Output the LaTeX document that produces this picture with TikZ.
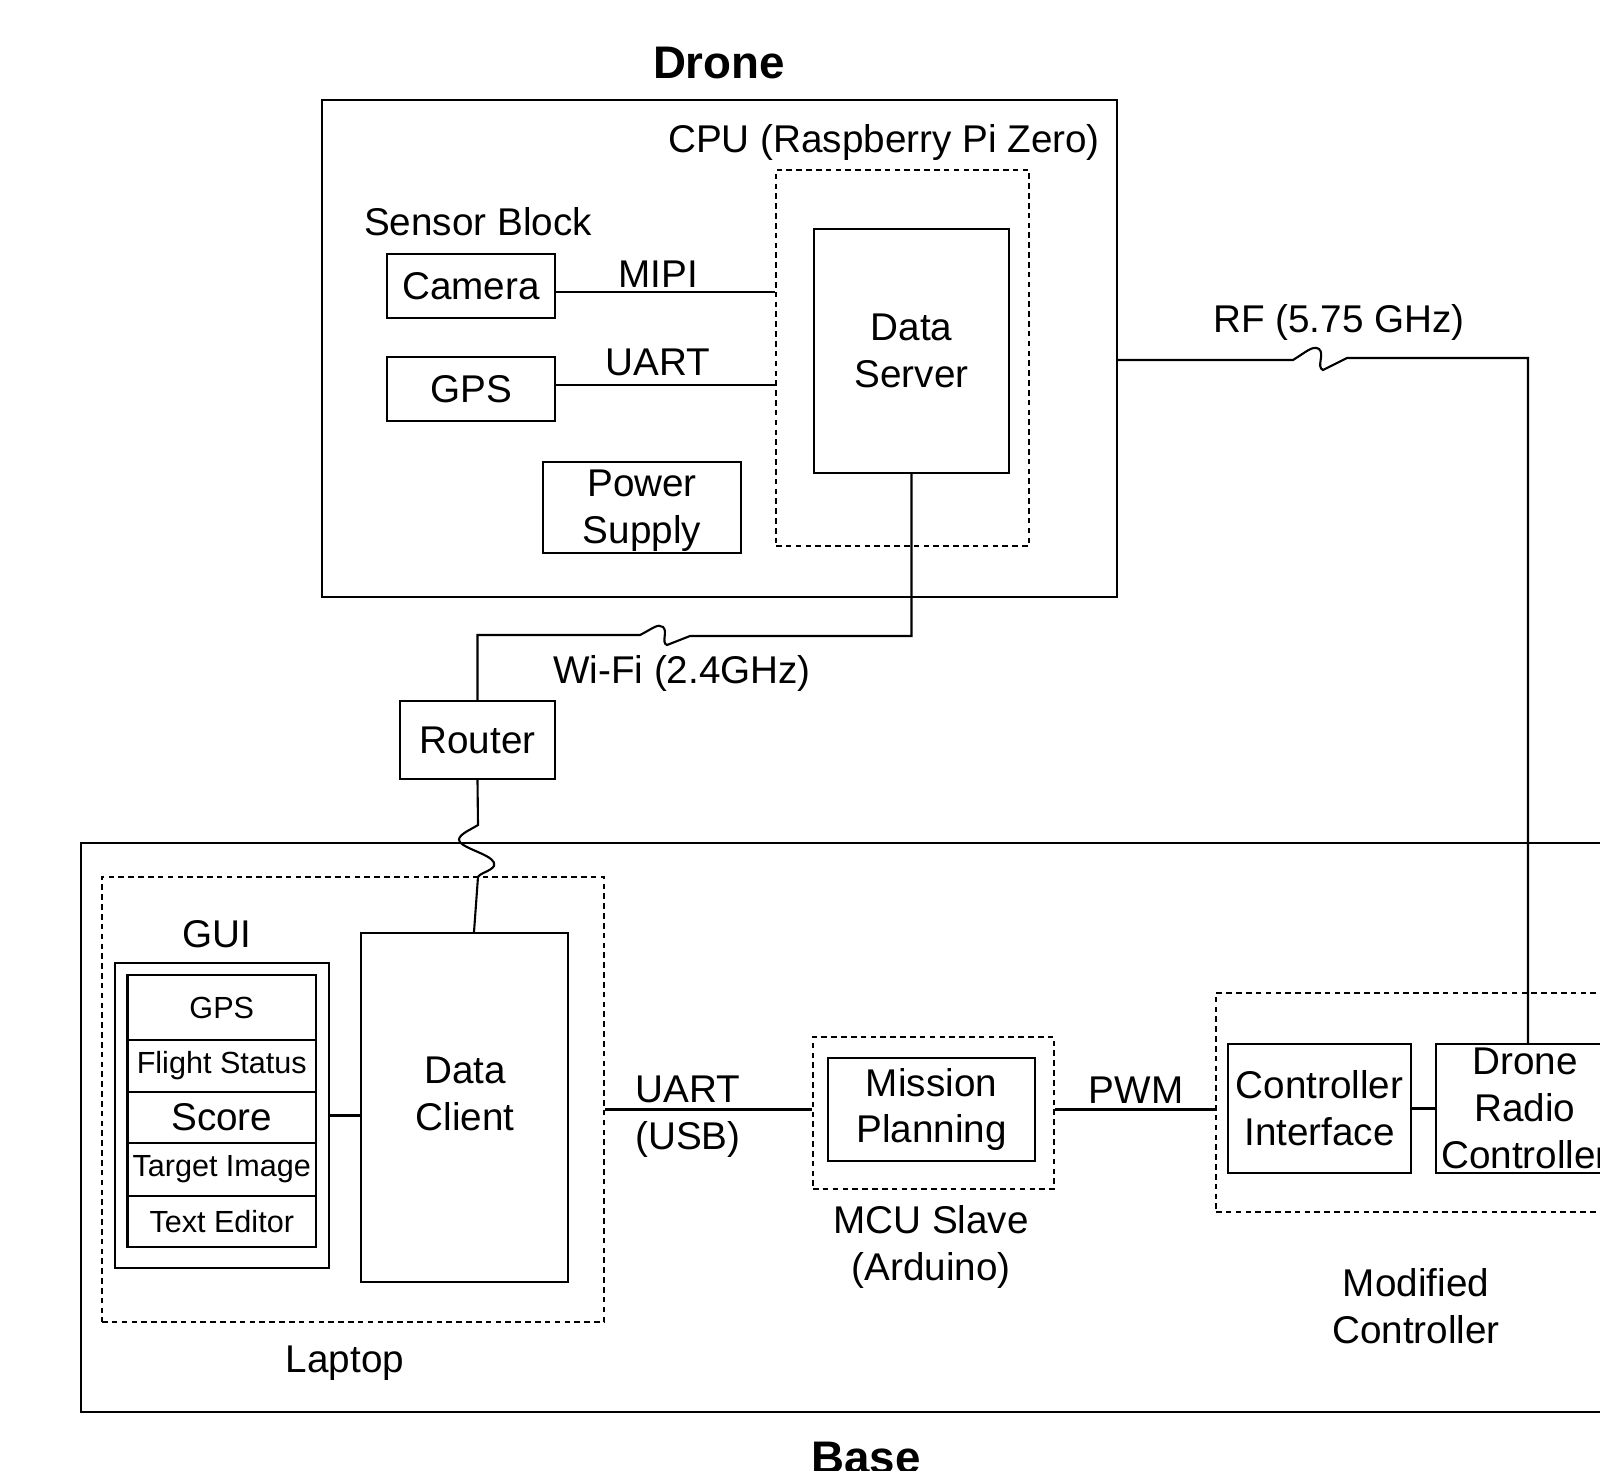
\documentclass[tikz,border=0pt]{standalone}
\usepackage{fontspec}
\setmainfont{Liberation Sans}
\begin{document}
\begin{tikzpicture}[
                x = 0.1mm,
                y = -0.1mm,
        box/.style = {rectangle, draw=black, line width=0.6pt, align=center,
                      inner sep=0pt, font=\fontsize{11}{13.3}\selectfont},
      group/.style = {rectangle, draw=black, line width=0.5pt,
                      dash pattern=on 1.6pt off 1.2pt, inner sep=0pt},
       item/.style = {box, minimum width=18.85mm,
                      font=\fontsize{8.7}{10}\selectfont},
        lbl/.style = {align=center, inner sep=0pt,
                      font=\fontsize{11}{13.3}\selectfont},
      title/.style = {inner sep=0pt, font=\fontsize{13}{15}\bfseries\selectfont},
       link/.style = {draw=black, line width=0.6pt},
    ]
    \useasboundingbox (0,0) rectangle (1600,1470);
    \clip (0,0) rectangle (1600,1470);

    % drone side
    \node[title] (dronetitle) at (719,63) {Drone};
    \node[box, minimum width=79.5mm, minimum height=49.7mm] (drone) at (719.5,348.5) {};
    \node[lbl] (cpulbl) at (884,142) {CPU (Raspberry Pi Zero)};
    \node[group, minimum width=25.3mm, minimum height=37.6mm] (cpu) at (902.5,358) {};
    \node[box, minimum width=19.5mm, minimum height=24.4mm] (server) at (911.5,351) {Data\\Server};
    \node[lbl] (sensorlbl) at (478,222) {Sensor Block};
    \node[box, minimum width=16.8mm, minimum height=6.4mm] (camera) at (471,286) {Camera};
    \node[box, minimum width=16.8mm, minimum height=6.4mm] (gps) at (471,389) {GPS};
    \node[box, minimum width=19.8mm, minimum height=9.1mm] (power) at (642,507.5) {};
    \node[lbl] (powerlbl) at (642,511) {Power\\Supply};

    \draw[link] ([yshift=-0.6mm]camera.east) -- ([yshift=-0.6mm]camera.east -| cpu.west);
    \draw[link] ([yshift=0.4mm]gps.east) -- ([yshift=0.4mm]gps.east -| cpu.west);
    \node[lbl] (mipi) at (658,274) {MIPI};
    \node[lbl] (uart) at (658,362) {UART};

    % radio link to the controller
    \coordinate (rfL) at (1293,360);
    \coordinate (rfR) at (1347,358);
    \node[lbl] (rflbl) at (1339,322) {RF (5.75 GHz)};

    % wifi link down to the router
    \coordinate (wifiL) at (640,635);
    \coordinate (wifiR) at (690,636);
    \node[lbl] (wifilbl) at (682,673) {Wi-Fi (2.4GHz)};
    \node[box, minimum width=15.5mm, minimum height=7.8mm] (router) at (477.5,740) {Router};

    % base side
    \node[box, minimum width=161.9mm, minimum height=56.9mm] (base) at (890.5,1127.5) {};
    \node[title, anchor=base] (basetitle) at (866,1473) {Base};

    \node[group, minimum width=50.2mm, minimum height=44.5mm] (laptop) at (353,1099.5) {};
    \node[lbl] (laptoplbl) at (345,1363) {Laptop};
    \node[lbl] (guilbl) at (217,934) {GUI};
    \node[box, minimum width=21.4mm, minimum height=30.5mm] (gui) at (222,1115.5) {};
    \node[item, minimum height=6.5mm] (guigps) at (221.75,1007.5) {GPS};
    \node[item, minimum height=5.2mm] (status) at (221.75,1066) {Flight Status};
    \node[item, minimum height=5.1mm, font=\fontsize{11}{13}\selectfont] (score) at (221.75,1117.5) {Score};
    \node[item, minimum height=5.3mm] (target) at (221.75,1169.5) {Target Image};
    \node[item, minimum height=5.1mm] (editor) at (221.75,1221.5) {Text Editor};
    \node[box, minimum width=20.7mm, minimum height=34.9mm] (client) at (464.5,1107.5) {};
    \node[lbl] (clientlbl) at (465,1094) {Data\\Client};

    \node[group, minimum width=24.1mm, minimum height=15.2mm] (mcu) at (933.5,1113) {};
    \node[box, minimum width=20.7mm, minimum height=10.3mm] (mission) at (931.5,1109.5) {Mission\\Planning};
    \node[lbl] (mculbl) at (931,1247) {MCU Slave\\(Arduino)};

    \node[group, minimum width=48.4mm, minimum height=21.9mm] (modified) at (1458,1102.5) {};
    \node[box, minimum width=18.3mm, minimum height=12.9mm] (ctrl) at (1319.5,1108.5) {Controller\\Interface};
    \node[box, minimum width=17.8mm, minimum height=12.9mm] (radio) at (1525,1108.5) {Drone\\Radio\\Controller};
    \node[lbl] (modlbl) at (1416,1306) {Modified\\Controller};

    \draw[link] (gui.east) -- (gui.east -| client.west);
    \draw[link] (mission -| laptop.east) -- (mission -| mcu.west);
    \node[lbl] (usb) at (688,1117) {UART\\(USB)};
    \draw[link] (mission -| mcu.east) -- (mission -| modified.west);
    \node[lbl] (pwm) at (1136,1090) {PWM};
    \draw[link] (ctrl.east) -- (radio.west);

    % wireless links, each with a break mark
    \draw[link] (drone.east |- rfL) -- (rfL)
        .. controls (1306,352) and (1313,345) .. (1319,349)
        .. controls (1325,354) and (1316,367) .. (1323,370) -- (rfR)
        -| ([xshift=0.3mm]radio.north);
    \draw[link] (server.south) |- (wifiR) -- (667,645)
        .. controls (661,643) and (668,631) .. (663,627)
        .. controls (658,623) and (652,629) .. (wifiL)
        -| (router.north);
    \draw[link] (router.south) -- (478,825)
        .. controls (470,830) and (455,836) .. (460,842)
        .. controls (466,850) and (498,856) .. (494,866)
        .. controls (491,871) and (480,873) .. (478,877)
        -- ([xshift=0.95mm]client.north);
\end{tikzpicture}
\end{document}
